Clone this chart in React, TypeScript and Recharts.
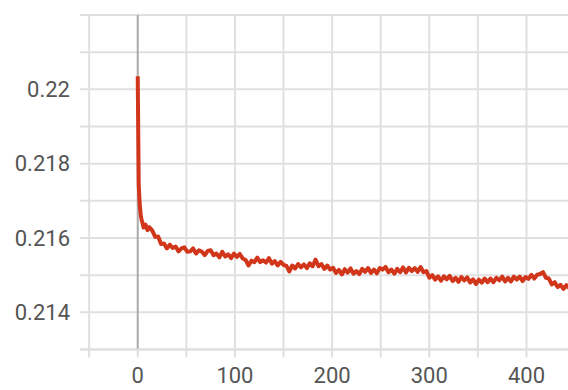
import React from 'react';
import {
  LineChart,
  Line,
  XAxis,
  YAxis,
  CartesianGrid,
  ReferenceLine,
} from 'recharts';

// training steps
const steps = [
  0, 1, 2, 3, 4, 5, 6, 8, 10, 12,
  15, 18, 21, 24, 27, 30, 33, 36, 39, 42, 45, 48, 51, 54, 57, 60,
  63, 66, 69, 72, 75, 78, 81, 84, 87, 90, 93, 96, 99, 102, 105, 108,
  111, 114, 117, 120, 123, 126, 129, 132, 135, 138, 141, 144, 147, 150,
  153, 156, 159, 162, 165, 168, 171, 174, 177, 180, 183, 186, 189, 192,
  195, 198, 201, 204, 207, 210, 213, 216, 219, 222, 225, 228, 231, 234,
  237, 240, 243, 246, 249, 252, 255, 258, 261, 264, 267, 270, 273, 276,
  279, 282, 285, 288, 291, 294, 297, 300, 303, 306, 309, 312, 315, 318,
  321, 324, 327, 330, 333, 336, 339, 342, 345, 348, 351, 354, 357, 360,
  363, 366, 369, 372, 375, 378, 381, 384, 387, 390, 393, 396, 399, 402,
  405, 408, 411, 414, 417, 420, 423, 426, 429, 432, 435, 438, 441, 444,
];

// loss value at each step
const loss = [
  0.22035, 0.21745, 0.21692, 0.21664, 0.21648, 0.2164, 0.21628, 0.21636, 0.21621, 0.21629,
  0.2162, 0.21603, 0.21604, 0.21584, 0.21585, 0.21572, 0.21582, 0.21573, 0.21577, 0.21564,
  0.21572, 0.21575, 0.21563, 0.21564, 0.21572, 0.21558,
  0.21567, 0.21563, 0.21554, 0.21565, 0.21567, 0.21554, 0.21558, 0.21548, 0.21563, 0.2155,
  0.21556, 0.21546, 0.21558, 0.21549, 0.21557, 0.21545,
  0.21541, 0.21526, 0.21539, 0.21535, 0.21547, 0.21535, 0.2154, 0.21534, 0.21546, 0.21531,
  0.21538, 0.21526, 0.21536, 0.21528,
  0.21525, 0.2151, 0.21526, 0.21518, 0.2153, 0.21521, 0.21529, 0.21519, 0.21532, 0.21524,
  0.21542, 0.21524, 0.2153, 0.21517,
  0.21526, 0.21515, 0.2152, 0.21506, 0.21514, 0.21502, 0.21516, 0.21507, 0.21518, 0.21504,
  0.21511, 0.21503, 0.21517, 0.21509,
  0.21519, 0.21506, 0.21515, 0.21505, 0.21519, 0.21515, 0.21522, 0.21508, 0.21515, 0.21504,
  0.21517, 0.21508, 0.21521, 0.21507,
  0.2152, 0.21511, 0.21519, 0.21509, 0.21522, 0.21508, 0.21511, 0.21493, 0.215, 0.21488,
  0.21497, 0.21485, 0.21497, 0.21489,
  0.21498, 0.21484, 0.21493, 0.21482, 0.21495, 0.21486, 0.21494, 0.2148, 0.21489, 0.21476,
  0.21488, 0.2148, 0.21491, 0.21481,
  0.21491, 0.21481, 0.21493, 0.21486, 0.21496, 0.21483, 0.21493, 0.21483, 0.21496, 0.21488,
  0.21496, 0.21484, 0.21495, 0.2149,
  0.21501, 0.21491, 0.21501, 0.21503, 0.21508, 0.21493, 0.21491, 0.21475, 0.21481, 0.21468,
  0.21474, 0.21463, 0.21473, 0.21465,
];

const xTicks = [-50, 0, 50, 100, 150, 200, 250, 300, 350, 400];
const yTicks = [0.213, 0.214, 0.215, 0.216, 0.217, 0.218, 0.219, 0.22, 0.221, 0.222];
const yLabels = [0.214, 0.216, 0.218, 0.22];

const data = steps.map((step, i) => ({ step, value: loss[i] }));

const gridColor = '#e0e0e0';
const tickStyle = { fontFamily: 'Roboto', fontSize: 22, fill: '#555' };

export default function App() {
  return (
    <div style={{ position: 'fixed', left: 0, top: 0, background: '#fff' }}>
      <LineChart
        width={568}
        height={390}
        data={data}
        margin={{ top: 15, right: 0, bottom: 0, left: 0 }}
      >
        <CartesianGrid stroke={gridColor} strokeWidth={2} vertical={false} />
        {xTicks
          .filter((t) => t !== 0)
          .map((t) => (
            <ReferenceLine key={t} x={t} stroke={gridColor} strokeWidth={2} />
          ))}
        <XAxis
          dataKey="step"
          type="number"
          domain={[-59.4, 442.7]}
          allowDataOverflow
          ticks={xTicks}
          interval={0}
          height={40.5}
          tickSize={8}
          tickMargin={10}
          axisLine={{ stroke: gridColor, strokeWidth: 2 }}
          tickLine={{ stroke: gridColor, strokeWidth: 2 }}
          tick={tickStyle}
          tickFormatter={(v: number) => (v >= 0 && v % 100 === 0 ? String(v) : '')}
        />
        <YAxis
          type="number"
          domain={[0.213, 0.222]}
          allowDataOverflow
          ticks={yTicks}
          interval={0}
          width={80}
          axisLine={false}
          tickLine={false}
          tickSize={6}
          tickMargin={4}
          tick={tickStyle}
          tickFormatter={(v: number) =>
            yLabels.some((l) => Math.abs(l - v) < 1e-9) ? String(Number(v.toFixed(3))) : ''
          }
        />
        <ReferenceLine x={0} stroke="#aaa" strokeWidth={2} />
        <Line
          type="linear"
          dataKey="value"
          stroke="#d2361a"
          strokeWidth={4}
          strokeLinejoin="round"
          dot={false}
          isAnimationActive={false}
        />
      </LineChart>
    </div>
  );
}
